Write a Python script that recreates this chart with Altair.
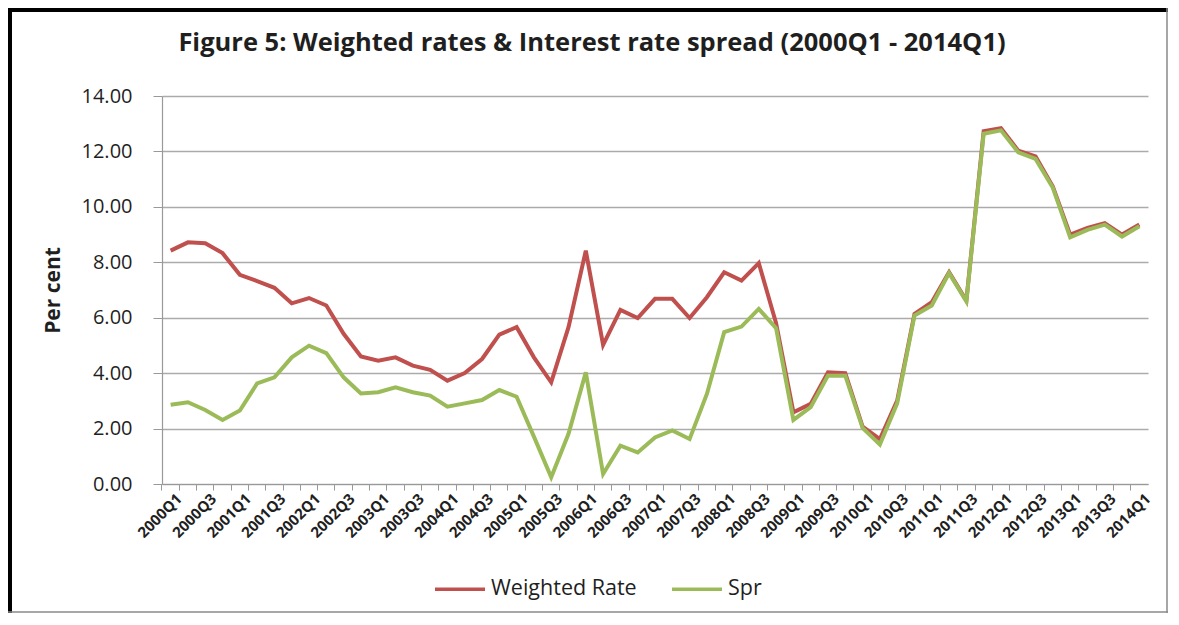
import altair as alt
import pandas as pd

quarters = [f"{y}Q{q}" for y in range(2000, 2014) for q in range(1, 5)] + ["2014Q1"]

weighted_rate = [
    8.42, 8.72, 8.69, 8.33, 7.55, 7.32, 7.08, 6.52, 6.71, 6.44,
    5.42, 4.60, 4.45, 4.57, 4.27, 4.12, 3.73, 4.00, 4.51, 5.39,
    5.66, 4.57, 3.67, 5.66, 8.42, 5.02, 6.28, 5.99, 6.68, 6.68,
    5.99, 6.74, 7.64, 7.34, 7.97, 5.80, 2.59, 2.89, 4.03, 4.00,
    2.07, 1.62, 3.01, 6.14, 6.56, 7.64, 6.62, 12.73, 12.84, 12.03,
    11.82, 10.73, 9.00, 9.24, 9.41, 9.00, 9.36,
]

spr = [
    2.86, 2.95, 2.67, 2.31, 2.65, 3.63, 3.85, 4.57, 4.99, 4.72,
    3.85, 3.27, 3.31, 3.49, 3.31, 3.19, 2.79, 2.91, 3.03, 3.39,
    3.15, 1.71, 0.24, 1.81, 4.03, 0.36, 1.38, 1.14, 1.68, 1.93,
    1.62, 3.25, 5.48, 5.68, 6.32, 5.62, 2.31, 2.77, 3.91, 3.91,
    2.02, 1.42, 2.91, 6.08, 6.44, 7.61, 6.59, 12.64, 12.76, 11.97,
    11.73, 10.69, 8.90, 9.17, 9.36, 8.93, 9.30,
]

series_names = ["Weighted Rate", "Spr"]
series_colors = ["#C0504D", "#9BBB59"]
y_ticks = [0, 2, 4, 6, 8, 10, 12, 14]

df = pd.DataFrame({
    "quarter": quarters * 2,
    "series": [series_names[0]] * len(quarters) + [series_names[1]] * len(quarters),
    "value": weighted_rate + spr,
})

TXT = "#1f1f1f"
GRID = "#ababab"
FONT = "Open Sans"

x_enc = alt.X(
    "quarter:O",
    sort=quarters,
    scale=alt.Scale(domain=quarters, type="band", paddingInner=0, paddingOuter=0),
    axis=alt.Axis(
        title=None,
        bandPosition=0,
        labelAngle=-45,
        labelAlign="right",
        labelBaseline="middle",
        labelOffset=8.65,
        labelExpr="(indexof(datum.value,'Q2')>=0 || indexof(datum.value,'Q4')>=0) ? '' : datum.value",
        labelOverlap=False,
        labelFont=FONT,
        labelFontWeight="bold",
        labelFontSize=15,
        labelColor=TXT,
        labelPadding=6,
        tickSize=6,
        tickColor="#999999",
        domainColor="#999999",
        domainWidth=1.2,
        grid=False,
    ),
)

y_enc = alt.Y(
    "value:Q",
    scale=alt.Scale(domain=[0, 14], nice=False, zero=True),
    axis=alt.Axis(
        values=y_ticks,
        format=".2f",
        title="Per cent",
        titleFont=FONT,
        titleFontWeight="bold",
        titleFontSize=21,
        titleColor=TXT,
        titleAngle=-90,
        titleX=-109,
        titleY=194,
        titleAlign="center",
        titleBaseline="middle",
        labelFont=FONT,
        labelFontSize=20,
        labelColor=TXT,
        labelPadding=21,
        tickSize=9,
        tickColor="#999999",
        domainColor="#999999",
        domainWidth=1.2,
        gridColor=GRID,
        gridWidth=1.5,
    ),
)

color_enc = alt.Color(
    "series:N",
    scale=alt.Scale(domain=series_names, range=series_colors),
    legend=alt.Legend(
        title=None,
        orient="none",
        direction="horizontal",
        legendX=271,
        legendY=466,
        symbolType="stroke",
        symbolSize=2500,
        symbolStrokeWidth=3.5,
        labelFont=FONT,
        labelFontSize=21.5,
        labelColor=TXT,
        labelOffset=4,
        columnPadding=28,
        padding=0,
    ),
)

base = alt.Chart(df)

red = base.transform_filter(alt.datum.series == series_names[0]).mark_line(strokeWidth=4).encode(
    x=x_enc, y=y_enc, color=color_enc
)
green = base.transform_filter(alt.datum.series == series_names[1]).mark_line(strokeWidth=4).encode(
    x=x_enc, y=y_enc, color=color_enc
)

frame_df = pd.DataFrame({"k": [0]})
frame = alt.Chart(frame_df)
top_line = frame.mark_rule(color="#000000", strokeWidth=4).encode(
    x=alt.value(-154), x2=alt.value(1006), y=alt.value(-86)
)
left_line = frame.mark_rule(color="#000000", strokeWidth=4).encode(
    x=alt.value(-152), y=alt.value(-88), y2=alt.value(517)
)
right_line = frame.mark_rule(color="#8a8a8a", strokeWidth=1.5).encode(
    x=alt.value(1005), y=alt.value(-88), y2=alt.value(517)
)
bottom_line = frame.mark_rule(color="#8a8a8a", strokeWidth=1.5).encode(
    x=alt.value(-154), x2=alt.value(1006), y=alt.value(516)
)

chart = alt.layer(red, green, top_line, left_line, right_line, bottom_line).properties(
    width=986,
    height=388,
    padding={"left": 154, "top": 88, "right": 20, "bottom": 129},
    autosize=alt.AutoSizeParams(type="none"),
    background="#ffffff",
    title=alt.TitleParams(
        text="Figure 5: Weighted rates & Interest rate spread (2000Q1 - 2014Q1)",
        anchor="middle",
        dx=-63,
        dy=70,
        offset=0,
        baseline="alphabetic",
        font=FONT,
        fontWeight="bold",
        fontSize=25.5,
        color=TXT,
    ),
).configure_view(stroke=None)

chart.save("out.html", embed_options={"renderer": "svg", "actions": False})
